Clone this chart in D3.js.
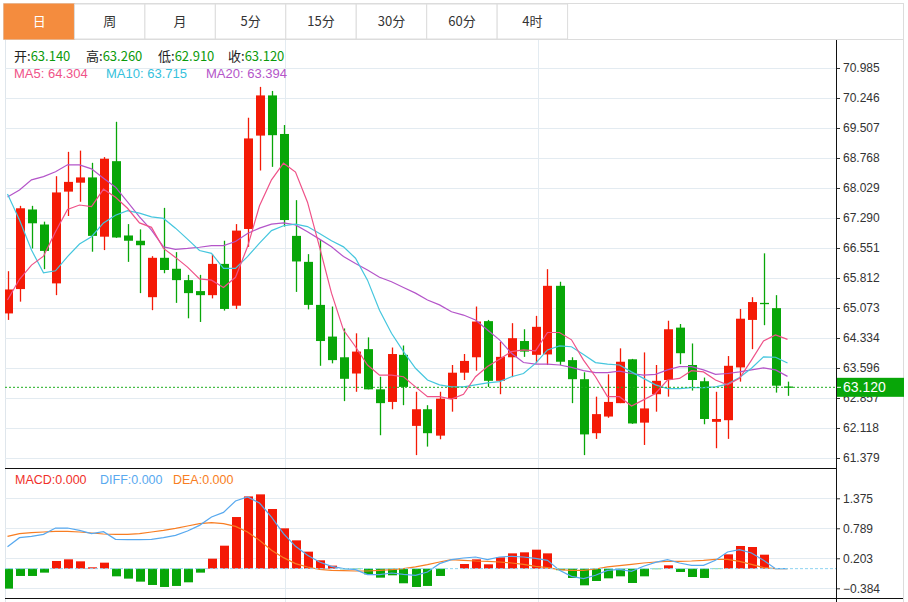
<!DOCTYPE html>
<html>
<head>
<meta charset="utf-8">
<script src="https://cdn.jsdelivr.net/npm/d3@7"></script>
<style>
  body { margin: 0; background: #fff; }
  svg { display: block; font-family: "Liberation Sans", Arial, sans-serif; }
</style>
</head>
<body>
<script>
// tabs along the top
var tabs = ["日", "周", "月", "5分", "15分", "30分", "60分", "4时"];

// daily candles (open / high / low / close), oldest first
var opens  = [64.94,65.54,67.50,67.13,65.68,67.94,68.16,68.29,66.83,68.69,
              66.86,66.73,65.34,66.31,66.04,65.76,65.49,65.39,66.16,65.13,
              67.02,69.32,70.31,69.36,66.85,66.21,65.15,64.37,63.86,63.46,
              64.06,63.07,62.76,63.92,62.17,62.58,61.93,62.83,63.48,63.86,
              64.75,63.28,63.86,64.26,63.92,63.93,65.62,63.79,63.32,61.99,
              62.40,62.73,63.81,62.25,62.95,63.30,64.59,63.67,63.27,62.27,
              62.31,63.61,64.78,65.20,65.07,63.14];
var highs  = [65.98,67.59,67.59,67.20,68.32,68.92,68.95,68.65,68.79,69.66,
              67.14,67.01,66.35,67.54,66.45,65.89,65.89,66.40,66.73,67.14,
              69.76,70.52,70.42,69.58,67.73,66.40,66.75,65.11,64.57,64.45,
              64.35,63.38,64.10,64.15,63.01,62.68,63.01,63.67,63.94,65.11,
              64.78,64.24,64.70,64.55,64.88,66.03,65.72,63.86,63.49,62.89,
              63.44,64.08,63.82,63.98,63.67,64.76,64.68,64.20,63.36,63.01,
              63.89,65.05,65.34,66.42,65.39,63.26];
var lows   = [64.78,65.23,66.54,66.03,65.39,67.34,67.69,66.46,66.50,66.80,
              66.21,65.44,65.02,65.93,65.20,64.82,64.73,65.31,65.01,65.05,
              66.58,68.46,68.55,67.08,65.47,65.04,63.65,63.71,62.78,63.01,
              63.07,61.94,62.58,62.68,61.45,61.66,61.84,62.52,63.30,63.53,
              63.13,62.95,63.37,63.87,63.71,63.67,63.67,62.73,61.45,61.85,
              62.37,62.73,62.22,61.70,62.52,62.89,63.69,63.04,62.21,61.62,
              61.85,63.26,64.06,64.65,62.99,62.91];
var closes = [65.53,67.53,67.16,66.48,67.92,68.18,68.29,66.85,68.75,66.81,
              66.73,66.62,66.31,66.01,65.76,65.44,65.39,66.16,65.05,66.98,
              69.25,70.31,69.33,67.24,66.22,65.15,64.26,63.79,63.33,64.00,
              63.07,62.73,63.94,63.13,62.58,61.99,62.84,63.48,63.77,64.74,
              63.28,63.87,64.33,64.00,64.61,65.62,63.75,63.32,61.96,62.46,
              62.76,63.75,62.23,62.60,63.28,64.55,63.96,63.30,62.34,62.34,
              63.65,64.81,65.22,65.18,63.16,63.12];

// moving averages
var ma5  = [65.27,65.78,66.13,66.35,66.95,67.50,67.61,67.57,68.00,67.80,
            67.53,67.17,67.06,66.54,66.32,66.08,65.79,65.76,65.58,65.83,
            66.58,67.59,68.23,68.64,68.42,67.68,66.58,65.44,64.53,64.12,
            63.67,63.42,63.42,63.38,63.13,62.89,62.89,62.83,62.95,63.38,
            63.63,63.81,64.00,64.04,64.02,64.47,64.47,64.29,63.79,63.38,
            62.89,62.89,62.66,62.81,62.97,63.30,63.34,63.53,63.50,63.30,
            63.18,63.34,63.79,64.26,64.41,64.30];
var ma10 = [67.88,67.24,66.50,65.94,65.99,66.34,66.65,66.83,67.17,67.36,
            67.47,67.41,67.32,67.28,67.04,66.77,66.49,66.42,66.05,66.05,
            66.34,66.67,66.98,67.10,67.14,67.08,66.91,66.73,66.58,66.30,
            65.76,65.02,64.45,64.00,63.59,63.30,63.18,63.13,63.13,63.18,
            63.23,63.26,63.38,63.46,63.71,64.04,64.14,64.12,63.93,63.73,
            63.69,63.67,63.50,63.34,63.18,63.09,63.09,63.11,63.11,63.13,
            63.20,63.36,63.59,63.87,63.86,63.72];
var ma20 = [67.81,67.98,68.23,68.31,68.43,68.60,68.60,68.50,68.27,68.05,
            67.69,67.32,66.99,66.58,66.52,66.54,66.57,66.61,66.61,66.71,
            66.91,67.04,67.14,67.17,67.12,66.95,66.77,66.58,66.34,66.17,
            66.01,65.83,65.72,65.58,65.44,65.27,65.15,64.98,64.90,64.78,
            64.53,64.29,63.96,63.73,63.69,63.69,63.67,63.61,63.53,63.48,
            63.48,63.52,63.46,63.42,63.44,63.55,63.63,63.63,63.55,63.44,
            63.46,63.50,63.55,63.60,63.55,63.39];

// MACD pane
var macdHist = [-0.390,-0.143,-0.143,-0.078,0.150,0.182,0.143,0.026,0.117,-0.150,
                -0.195,-0.254,-0.319,-0.358,-0.338,-0.267,-0.078,0.195,0.449,1.009,
                1.412,1.452,1.166,0.788,0.553,0.332,0.163,0.059,-0.010,-0.010,
                -0.111,-0.176,-0.130,-0.286,-0.358,-0.338,-0.143,0.000,0.091,0.182,
                0.085,0.221,0.299,0.319,0.371,0.299,-0.030,-0.182,-0.326,-0.241,
                -0.189,-0.150,-0.280,-0.150,-0.010,0.065,-0.065,-0.163,-0.182,-0.008,
                0.280,0.443,0.423,0.273,0.000,0.000];
var diff = [0.430,0.605,0.632,0.671,0.794,0.794,0.749,0.684,0.723,0.573,
            0.566,0.566,0.573,0.605,0.651,0.736,0.846,1.009,1.100,1.322,
            1.400,1.283,1.009,0.684,0.436,0.260,0.130,0.046,0.000,-0.020,
            -0.117,-0.117,-0.085,-0.111,-0.130,-0.065,0.098,0.176,0.208,0.228,
            0.176,0.228,0.241,0.228,0.202,0.163,-0.033,-0.150,-0.195,-0.130,
            -0.033,-0.013,-0.052,0.046,0.124,0.176,0.111,0.065,0.065,0.163,
            0.326,0.371,0.306,0.163,0.000,0.000];
var dea  = [0.630,0.684,0.703,0.716,0.729,0.729,0.716,0.697,0.677,0.671,
            0.671,0.684,0.716,0.749,0.788,0.833,0.879,0.898,0.879,0.827,
            0.716,0.553,0.358,0.215,0.098,0.033,-0.013,-0.033,-0.039,-0.046,
            -0.046,-0.033,-0.020,0.000,0.033,0.078,0.130,0.176,0.163,0.150,
            0.143,0.130,0.111,0.085,0.046,0.020,-0.020,-0.033,-0.033,-0.007,
            0.033,0.059,0.085,0.111,0.130,0.143,0.143,0.150,0.163,0.182,
            0.182,0.143,0.085,0.020,0.000,0.000];

var priceTicks = [70.985,70.246,69.507,68.768,68.029,67.290,66.551,65.812,65.073,64.334,63.596,62.857,62.118,61.379];
var macdTicks  = [1.375,0.789,0.203,-0.384];
var lastPrice = 63.120;

var W = 908, H = 602,
    left = 5, axisX = 836,
    mainTop = 40, mainBottom = 468, macdBottom = 598,
    bodyW = 9;

var red = "#f41a06", green = "#08a608",
    gridColor = "#e3ebf1";

var svg = d3.select("body").append("svg")
    .attr("width", W).attr("height", H)
    .attr("viewBox", "0 0 " + W + " " + H);

var n = closes.length;
var x = d3.scaleLinear().domain([0, n - 1]).range([7.5, 787.5]);
var y = d3.scaleLinear().domain([61.379, 70.985]).range([458, 68]);
var ym = d3.scaleLinear().domain([-0.384, 1.375]).range([588.3, 498.3]);

svg.append("clipPath").attr("id", "clip")
  .append("rect").attr("x", left).attr("y", mainTop).attr("width", axisX - left).attr("height", macdBottom - mainTop);

// ---- tab bar
svg.append("rect").attr("x", 3.5).attr("y", 3.5).attr("width", 900).attr("height", 36)
    .attr("fill", "#fff").attr("stroke", "#dcdcdc");
var tabW = 70.45;
var tab = svg.selectAll(".tab").data(tabs).enter().append("g").attr("class", "tab")
    .attr("transform", function(d, i){ return "translate(" + (4 + i * tabW) + ",4)"; });
tab.append("rect")
    .attr("width", tabW).attr("height", 35)
    .attr("fill", function(d, i){ return i === 0 ? "#f48c3e" : "#fff"; })
    .attr("stroke", function(d, i){ return i === 0 ? "#f48c3e" : "#dcdcdc"; });
tab.append("text")
    .attr("x", tabW / 2).attr("y", 22)
    .attr("text-anchor", "middle")
    .style("font-family", "'Noto Sans CJK SC', sans-serif")
    .style("font-size", "13px")
    .attr("fill", function(d, i){ return i === 0 ? "#fff" : "#333"; })
    .text(function(d){ return d; });

// outer frame lines
svg.append("line").attr("x1", 903.5).attr("x2", 903.5).attr("y1", 3).attr("y2", H).attr("stroke", "#dcdcdc");
svg.append("line").attr("x1", left + 0.5).attr("x2", left + 0.5).attr("y1", mainTop).attr("y2", H).attr("stroke", "#dfe6ec");

// ---- grid
svg.selectAll(".hgrid").data(priceTicks).enter().append("line")
    .attr("x1", left).attr("x2", axisX)
    .attr("y1", function(d){ return Math.round(y(d)) + 0.5; })
    .attr("y2", function(d){ return Math.round(y(d)) + 0.5; })
    .attr("stroke", gridColor);
svg.selectAll(".mgrid").data(macdTicks).enter().append("line")
    .attr("x1", left).attr("x2", axisX)
    .attr("y1", function(d){ return Math.round(ym(d)) + 0.5; })
    .attr("y2", function(d){ return Math.round(ym(d)) + 0.5; })
    .attr("stroke", gridColor);
[285.5, 538.5].forEach(function(gx){
  svg.append("line").attr("x1", gx).attr("x2", gx).attr("y1", mainTop).attr("y2", H).attr("stroke", gridColor);
});

var plot = svg.append("g").attr("clip-path", "url(#clip)");

// ---- candles
var idx = d3.range(n);
plot.selectAll(".wick").data(idx).enter().append("line")
    .attr("x1", function(i){ return Math.round(x(i)) + 0.5; })
    .attr("x2", function(i){ return Math.round(x(i)) + 0.5; })
    .attr("y1", function(i){ return y(highs[i]); })
    .attr("y2", function(i){ return y(lows[i]); })
    .attr("stroke", function(i){ return closes[i] > opens[i] ? red : green; })
    .attr("stroke-width", 1.3);
plot.selectAll(".body").data(idx).enter().append("rect")
    .attr("x", function(i){ return Math.round(x(i)) + 0.5 - bodyW / 2; })
    .attr("y", function(i){ return y(Math.max(opens[i], closes[i])); })
    .attr("width", bodyW)
    .attr("height", function(i){ return Math.max(1.3, Math.abs(y(opens[i]) - y(closes[i]))); })
    .attr("fill", function(i){ return closes[i] > opens[i] ? red : green; });

// ---- moving averages
var maLine = function(arr, scale){
  return d3.line().x(function(d, i){ return x(i); }).y(function(d){ return scale(d); })(arr);
};
[[ma20, "#b455c9"], [ma10, "#45c6de"], [ma5, "#ef5288"]].forEach(function(m){
  plot.append("path").attr("d", maLine(m[0], y))
      .attr("fill", "none").attr("stroke", m[1]).attr("stroke-width", 1.2);
});

// last price marker
svg.append("line")
    .attr("x1", left).attr("x2", axisX)
    .attr("y1", y(lastPrice)).attr("y2", y(lastPrice))
    .attr("stroke", "#1fae1f").attr("stroke-dasharray", "2,2");

// ---- MACD
svg.append("line").attr("x1", left).attr("x2", axisX)
    .attr("y1", ym(0)).attr("y2", ym(0))
    .attr("stroke", "#8fd3f2").attr("stroke-dasharray", "3,2");
plot.selectAll(".hist").data(idx).enter().append("rect")
    .attr("x", function(i){ return Math.round(x(i)) + 0.5 - bodyW / 2; })
    .attr("y", function(i){ return macdHist[i] > 0 ? ym(macdHist[i]) : ym(0); })
    .attr("width", bodyW)
    .attr("height", function(i){ return Math.abs(ym(macdHist[i]) - ym(0)); })
    .attr("fill", function(i){ return macdHist[i] > 0 ? red : green; });
plot.append("path").attr("d", maLine(dea, ym))
    .attr("fill", "none").attr("stroke", "#f87d22").attr("stroke-width", 1.2);
plot.append("path").attr("d", maLine(diff, ym))
    .attr("fill", "none").attr("stroke", "#58a9ef").attr("stroke-width", 1.2);

// ---- pane separators and axes
svg.append("line").attr("x1", left).attr("x2", axisX).attr("y1", mainBottom + 0.5).attr("y2", mainBottom + 0.5).attr("stroke", "#111");
svg.append("line").attr("x1", left).attr("x2", 903).attr("y1", macdBottom + 0.5).attr("y2", macdBottom + 0.5).attr("stroke", "#111");

var styleAxis = function(g){
  g.select(".domain").remove();
  g.selectAll(".tick line").attr("stroke", "#333");
  g.selectAll(".tick text").attr("fill", "#333")
      .style("font-size", "12px").style("font-family", "'Liberation Sans', Arial, sans-serif");
};
svg.append("g").attr("transform", "translate(" + axisX + ",0)")
    .call(d3.axisRight(y).tickValues(priceTicks).tickFormat(d3.format(".3f")).tickSize(4).tickPadding(3))
    .call(styleAxis);
svg.append("g").attr("transform", "translate(" + axisX + ",0)")
    .call(d3.axisRight(ym).tickValues(macdTicks).tickFormat(d3.format(".3f")).tickSize(4).tickPadding(3))
    .call(styleAxis);
svg.append("line").attr("x1", axisX + 0.5).attr("x2", axisX + 0.5).attr("y1", mainTop).attr("y2", H).attr("stroke", "#111");

// price tag (sits over the 62.857 label, as in the original)
svg.append("rect").attr("x", axisX + 1).attr("y", y(lastPrice) - 9.5).attr("width", 67).attr("height", 19).attr("fill", green);
svg.append("line").attr("x1", axisX + 1).attr("x2", axisX + 5).attr("y1", y(lastPrice)).attr("y2", y(lastPrice)).attr("stroke", "#fff");
svg.append("text").attr("x", axisX + 7).attr("y", y(lastPrice) + 5)
    .attr("fill", "#fff").style("font-size", "14px").text(d3.format(".3f")(lastPrice));

// ---- legends
var ohlcLabels = ["开", "高", "低", "收"],
    ohlcValues = [opens[n - 1], highs[n - 1], lows[n - 1], closes[n - 1]],
    ohlcX = [14, 86, 158, 228];
var info = svg.append("text").attr("y", 61)
    .style("font-family", "'Noto Sans CJK SC', sans-serif").style("font-size", "13px");
ohlcLabels.forEach(function(l, i){
  info.append("tspan").attr("x", ohlcX[i]).attr("fill", "#222").text(l + ":");
  info.append("tspan").attr("fill", "#0b9a0b").text(d3.format(".3f")(ohlcValues[i]));
});

var maNames = ["MA5: ", "MA10: ", "MA20: "],
    maValues = [64.304, 63.715, 63.394],
    maColors = ["#ef5288", "#35c1dc", "#b455c9"],
    maX = [14, 106, 206];
svg.selectAll(".malabel").data(maNames).enter().append("text")
    .attr("x", function(d, i){ return maX[i]; }).attr("y", 78)
    .attr("fill", function(d, i){ return maColors[i]; })
    .style("font-size", "13px")
    .text(function(d, i){ return d + d3.format(".3f")(maValues[i]); });

var macdNames = ["MACD:", "DIFF:", "DEA:"],
    macdValues = [macdHist[n - 1], diff[n - 1], dea[n - 1]],
    macdColors = ["#f0302a", "#58a9ef", "#f87d22"],
    macdX = [15, 100, 173];
svg.selectAll(".macdlabel").data(macdNames).enter().append("text")
    .attr("x", function(d, i){ return macdX[i]; }).attr("y", 484)
    .attr("fill", function(d, i){ return macdColors[i]; })
    .style("font-size", "12.5px")
    .text(function(d, i){ return d + d3.format(".3f")(macdValues[i]); });
</script>
</body>
</html>
